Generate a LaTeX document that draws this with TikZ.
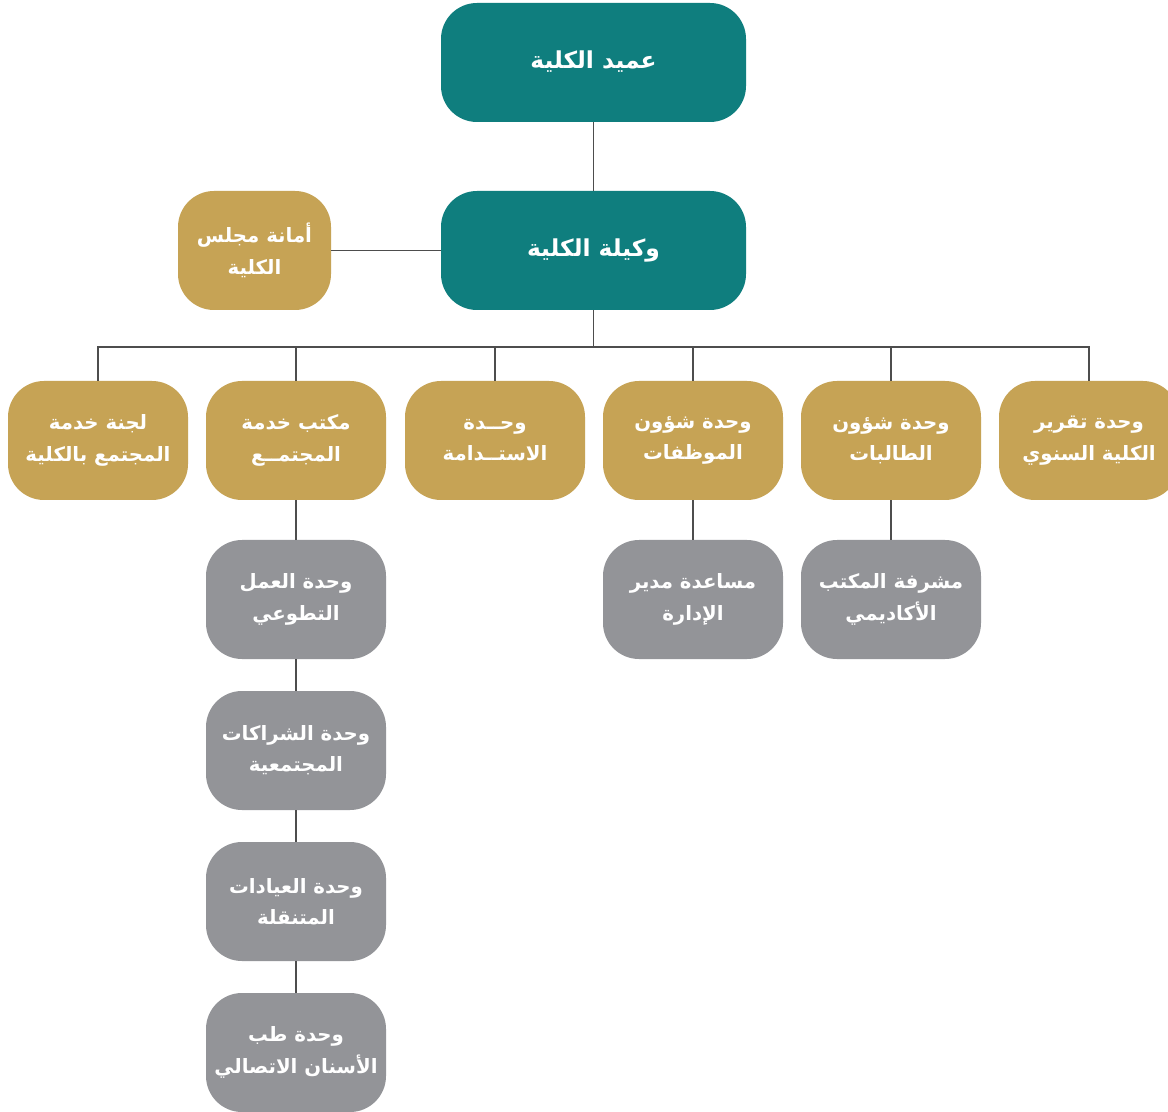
\documentclass[tikz,border=0pt]{standalone}
\usepackage{fontspec}
\TeXXeTstate=1
\newfontfamily\arabicfont[Script=Arabic]{DejaVu Sans}
\newcommand\arl[1]{\beginR#1\endR}
\definecolor{tealc}{HTML}{0F7E7E}
\definecolor{goldc}{HTML}{C6A355}
\definecolor{greyc}{HTML}{939498}
\definecolor{linec}{HTML}{4D4D4D}
\tikzset{
  box/.style={rounded corners=27pt, minimum width=135pt, minimum height=89.25pt,
    text=white, inner sep=0pt, align=center,
    font=\arabicfont\bfseries\fontsize{14.8}{23.5}\selectfont},
  tealbox/.style={box, fill=tealc, minimum width=228.75pt,
    font=\arabicfont\bfseries\fontsize{17.5}{23}\selectfont},
  goldbox/.style={box, fill=goldc},
  greybox/.style={box, fill=greyc},
  link/.style={draw=linec, line width=0.9pt}
}
\begin{document}
\begin{tikzpicture}[x=0.75pt,y=-0.75pt]
\clip (0,0) rectangle (1168,1112);
\fill[white] (0,0) rectangle (1168,1112);
% nodes
\node[tealbox] (dean) at (593.5,62.5) {\raisebox{4pt}{\arl{عميد الكلية}}};
\node[tealbox] (vice) at (593.5,250.5) {\raisebox{4pt}{\arl{وكيلة الكلية}}};
\node[goldbox, minimum width=114.75pt] (council) at (254.5,250.5) {\arl{أمانة مجلس}\\\arl{الكلية}};
\node[goldbox] (c1) at (98,440.5) {\arl{لجنة خدمة}\\\arl{المجتمع بالكلية}};
\node[goldbox] (c2) at (296,440.5) {\arl{مكتب خدمة}\\\arl{المجتمــع}};
\node[goldbox] (c3) at (495,440.5) {\arl{وحــدة}\\\arl{الاستــدامة}};
\node[goldbox] (c4) at (693,440.5) {\arl{وحدة شؤون}\\\arl{الموظفات}};
\node[goldbox] (c5) at (891,440.5) {\arl{وحدة شؤون}\\\arl{الطالبات}};
\node[goldbox] (c6) at (1089,440.5) {\arl{وحدة تقرير}\\\arl{الكلية السنوي}};
\node[greybox] (g1) at (296,599.5) {\arl{وحدة العمل}\\\arl{التطوعي}};
\node[greybox] (g2) at (296,750.5) {\arl{وحدة الشراكات}\\\arl{المجتمعية}};
\node[greybox] (g3) at (296,901.5) {\arl{وحدة العيادات}\\\arl{المتنقلة}};
\node[greybox] (g4) at (296,1052.5) {\arl{وحدة طب}\\\arl{الأسنان الاتصالي}};
\node[greybox] (m1) at (693,599.5) {\arl{مساعدة مدير}\\\arl{الإدارة}};
\node[greybox] (s1) at (891,599.5) {\arl{مشرفة المكتب}\\\arl{الأكاديمي}};
% connectors
\coordinate (bus) at (593.5,347);
\draw[link] (dean.south) -- (vice.north);
\draw[link] (council.east) -- (vice.west);
\draw[link] (vice.south) -- (bus);
\foreach \c in {c1,c2,c3,c4,c5,c6} {\draw[link] (bus) -| (\c.north);}
\draw[link] (c2.south) -- (g1.north);
\draw[link] (g1.south) -- (g2.north);
\draw[link] (g2.south) -- (g3.north);
\draw[link] (g3.south) -- (g4.north);
\draw[link] (c4.south) -- (m1.north);
\draw[link] (c5.south) -- (s1.north);
\end{tikzpicture}
\end{document}
